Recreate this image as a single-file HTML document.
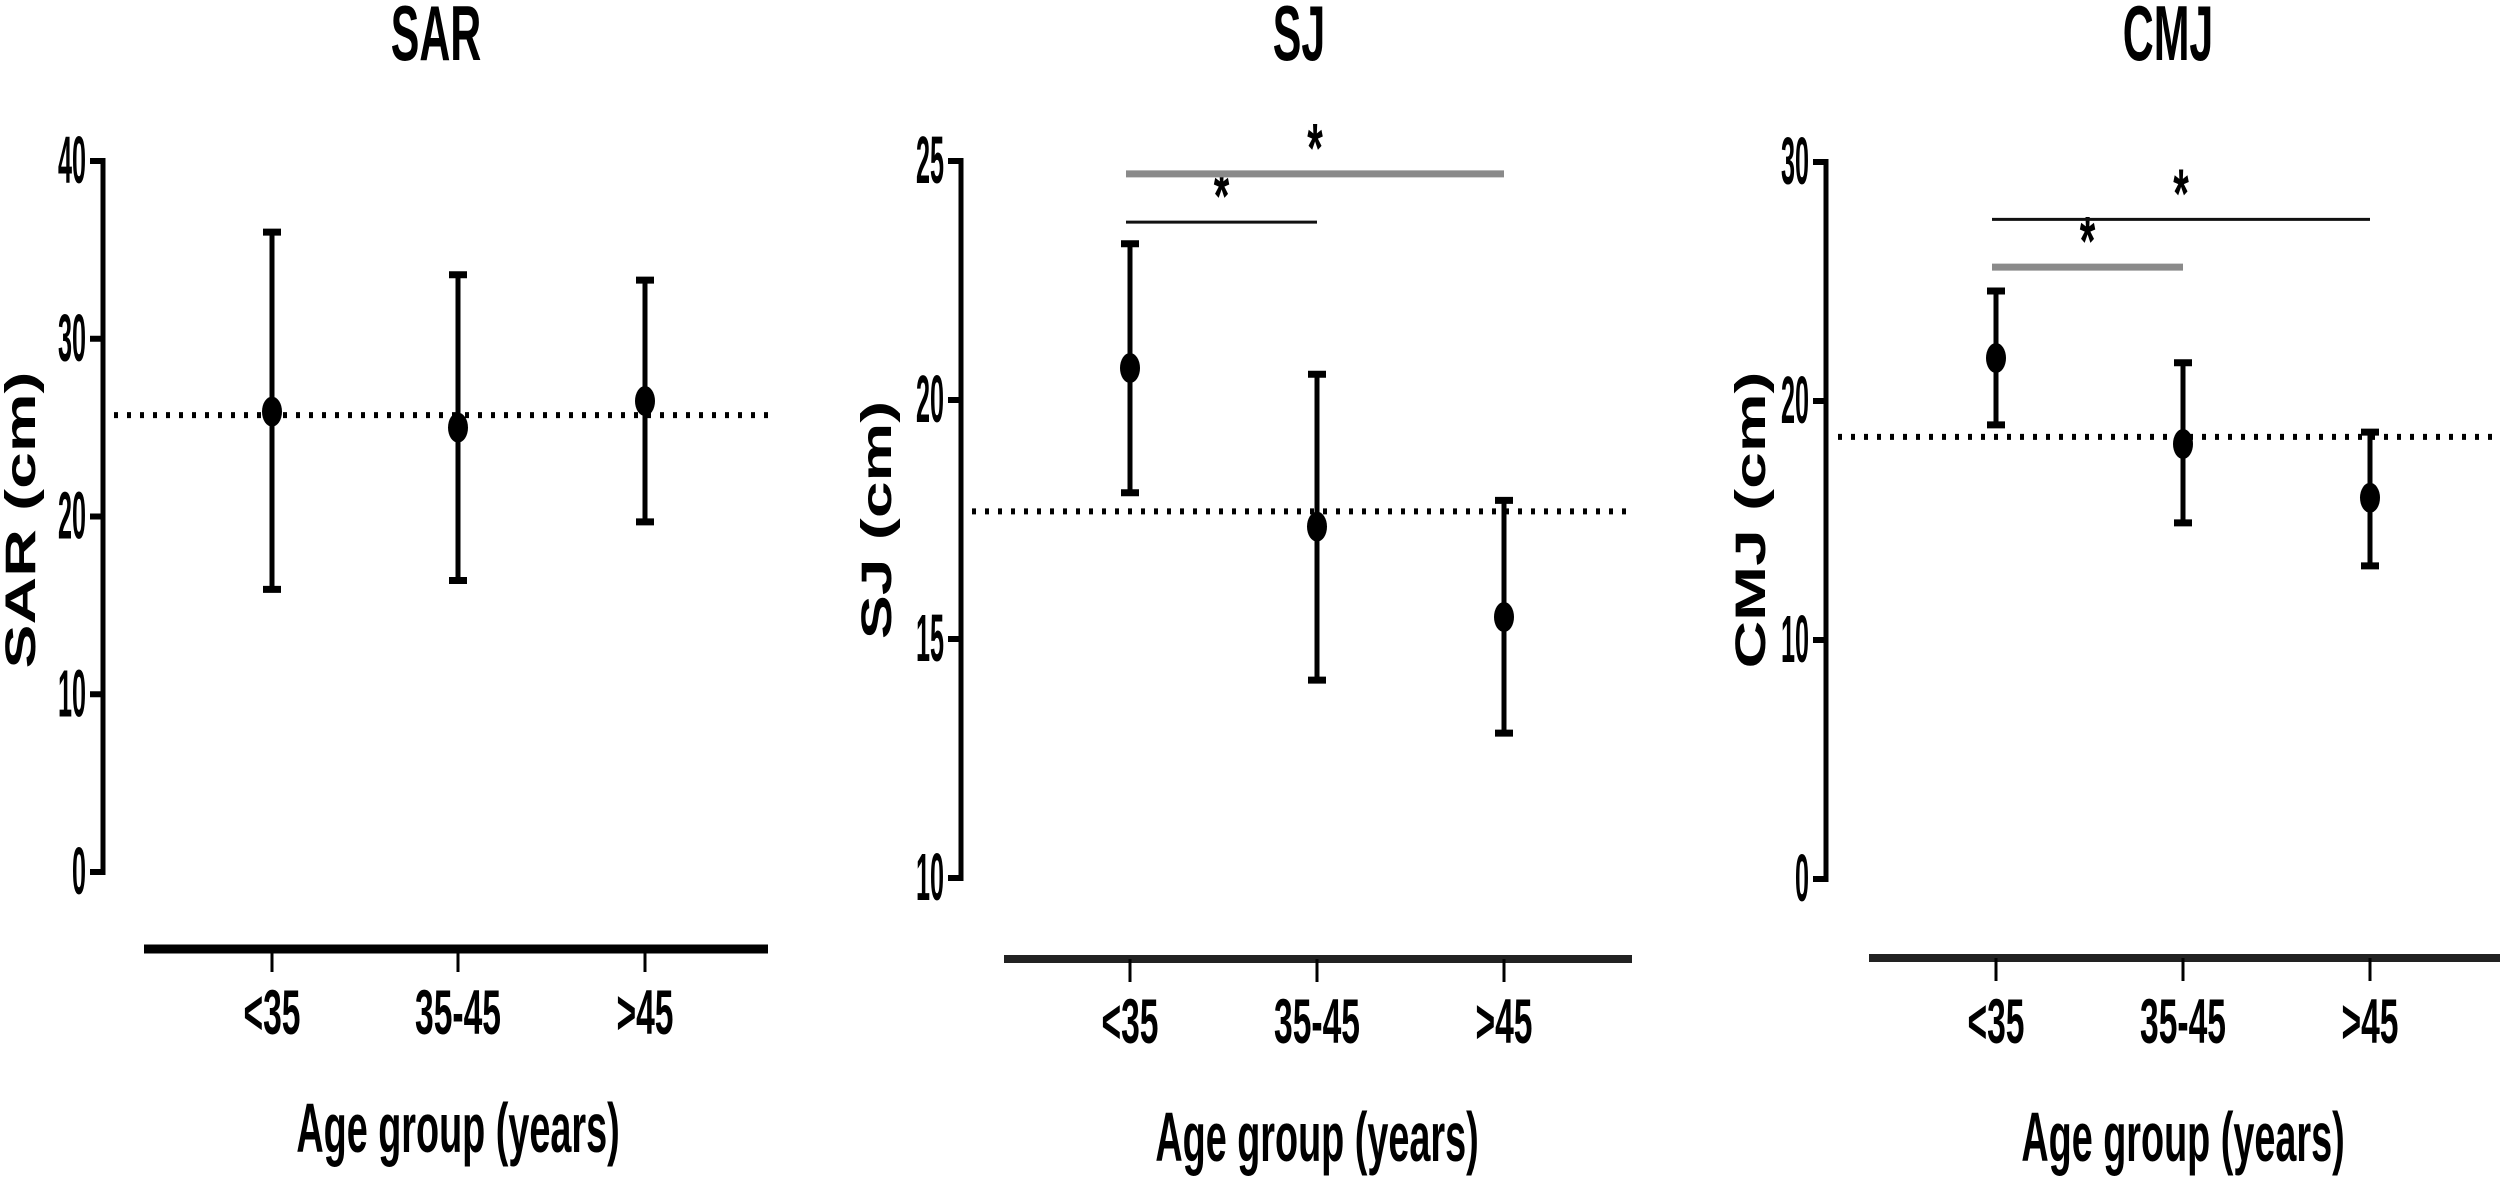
<!DOCTYPE html>
<html><head><meta charset="utf-8"><title>SAR SJ CMJ by age group</title>
<style>
html,body{margin:0;padding:0;background:#fff;width:2500px;height:1179px;overflow:hidden}
svg{display:block}
text{font-family:"Liberation Sans",sans-serif;font-weight:bold;fill:#000}
</style></head>
<body>
<svg id="fig" width="2500" height="1179" viewBox="0 0 2500 1179" xmlns="http://www.w3.org/2000/svg"></svg>
<script>
const categories = ["<35", "35-45", ">45"];
const sarMeans = [25.9, 25.0, 26.5];
const sarUpper = [36.0, 33.6, 33.3];
const sarLower = [15.9, 16.4, 19.7];
const sarRef = 25.7;
const sarTicks = [0, 10, 20, 30, 40];
const sjMeans = [20.67, 17.35, 15.46];
const sjUpper = [23.27, 20.54, 17.9];
const sjLower = [18.06, 14.14, 13.03];
const sjRef = 17.67;
const sjTicks = [10, 15, 20, 25];
const cmjMeans = [21.8, 18.2, 15.95];
const cmjUpper = [24.6, 21.6, 18.7];
const cmjLower = [19.0, 14.9, 13.1];
const cmjRef = 18.5;
const cmjTicks = [0, 10, 20, 30];
const sjSig = [[0, 1, 23.72, "black"], [0, 2, 24.73, "gray"]];
const cmjSig = [[0, 1, 25.6, "gray"], [0, 2, 27.6, "black"]];

const NS = "http://www.w3.org/2000/svg";
const svg = document.getElementById("fig");
function mk(tag, attrs, parent) {
  const e = document.createElementNS(NS, tag);
  for (const k in attrs) e.setAttribute(k, attrs[k]);
  (parent || svg).appendChild(e);
  return e;
}
function txt(parent, str, x, y, size, sx, sy, anchor) {
  const t = mk("text", {transform: `translate(${x},${y}) scale(${sx},${sy})`, "font-size": size, "text-anchor": anchor || "middle"}, parent);
  t.textContent = str;
  return t;
}

const panels = [
  {key: "sar", title: "SAR", ytitle: "SAR (cm)", means: sarMeans, upper: sarUpper, lower: sarLower, ref: sarRef, ticks: sarTicks,
   vmin: 0, vmax: 40, yTop: 161, yBot: 872, axisX: 103, cx: [272, 458, 645], barX0: 144, barX1: 768, barY: 949, dotX0: 114, dotX1: 769,
   titleX: 436, ytX: 22, sig: [], off: 0, dark: true},
  {key: "sj", title: "SJ", ytitle: "SJ (cm)", means: sjMeans, upper: sjUpper, lower: sjLower, ref: sjRef, ticks: sjTicks,
   vmin: 10, vmax: 25, yTop: 161, yBot: 878, axisX: 961, cx: [1130, 1317, 1504], barX0: 1004, barX1: 1632, barY: 959, dotX0: 972, dotX1: 1632,
   titleX: 1299, ytX: 878, sig: sjSig, off: 9, dark: false},
  {key: "cmj", title: "CMJ", ytitle: "CMJ (cm)", means: cmjMeans, upper: cmjUpper, lower: cmjLower, ref: cmjRef, ticks: cmjTicks,
   vmin: 0, vmax: 30, yTop: 162, yBot: 879, axisX: 1826, cx: [1996, 2183, 2370], barX0: 1869, barX1: 2500, barY: 958, dotX0: 1838, dotX1: 2500,
   titleX: 2168, ytX: 1752, sig: cmjSig, off: 9, dark: false}
];

panels.forEach(p => {
  const g = mk("g", {});
  
  
  const y = v => p.yBot - (v - p.vmin) / (p.vmax - p.vmin) * (p.yBot - p.yTop);

  const title = txt(g, p.title, p.titleX, 60, 78, 0.55, 1);
  
  

  const yt = mk("text", {transform: `translate(${p.ytX + 13},520) scale(0.64,1) rotate(-90)`, "font-size": 66, "text-anchor": "middle"}, g);
  yt.textContent = p.ytitle;
  
  

  const ax = mk("line", {x1: p.axisX, y1: y(p.vmax) - 3, x2: p.axisX, y2: y(p.vmin) + 3, stroke: "#000", "stroke-width": 5}, g);
  
  
  p.ticks.forEach(v => {
    const tk = mk("line", {x1: p.axisX - 13, y1: y(v), x2: p.axisX, y2: y(v), stroke: "#000", "stroke-width": 6}, g);
    
    
    const tl = txt(g, String(v), p.axisX - 17, y(v) + 22, 42, 0.6, 1.6, "end");
    
    
  });

  const dl = mk("line", {x1: p.dotX0, y1: y(p.ref), x2: p.dotX1, y2: y(p.ref), stroke: "#000", "stroke-width": 6, "stroke-dasharray": "4 9"}, g);
  
  

  const bar = mk("line", {x1: p.barX0, y1: p.barY, x2: p.barX1, y2: p.barY, stroke: p.dark ? "#000" : "#222", "stroke-width": p.dark ? 9 : 8}, g);
  
  

  categories.forEach((c, i) => {
    const x = p.cx[i];
    const xt = mk("line", {x1: x, y1: p.barY, x2: x, y2: p.barY + 23, stroke: "#000", "stroke-width": 3}, g);
    
    
    const xl = txt(g, c, x, 1034 + p.off, 56, 0.6, 1.12);
    
    

    const eb = mk("g", {}, g);
    
    
    mk("line", {x1: x, y1: y(p.upper[i]), x2: x, y2: y(p.lower[i]), stroke: "#000", "stroke-width": 5}, eb);
    mk("line", {x1: x - 9, y1: y(p.upper[i]), x2: x + 9, y2: y(p.upper[i]), stroke: "#000", "stroke-width": 7}, eb);
    mk("line", {x1: x - 9, y1: y(p.lower[i]), x2: x + 9, y2: y(p.lower[i]), stroke: "#000", "stroke-width": 7}, eb);
    const pt = mk("ellipse", {cx: x, cy: y(p.means[i]), rx: 10, ry: 15, fill: "#000"}, g);
    
    
  });

  p.sig.forEach(s => {
    const x0 = p.cx[s[0]] - 4, x1 = p.cx[s[1]];
    const gray = s[3] === "gray";
    const sl = mk("line", {x1: x0, y1: y(s[2]), x2: x1, y2: y(s[2]), stroke: gray ? "#8a8a8a" : "#111", "stroke-width": gray ? 7 : 3}, g);
    
    
    const st = txt(g, "*", (x0 + x1) / 2, y(s[2]) - 2, 50, 0.8, 1.4);
    
    
  });

  const xtitle = txt(g, "Age group (years)", p.cx[1], 1152 + p.off, 63, 0.6, 1.1);
  
  
});
</script>
</body></html>
